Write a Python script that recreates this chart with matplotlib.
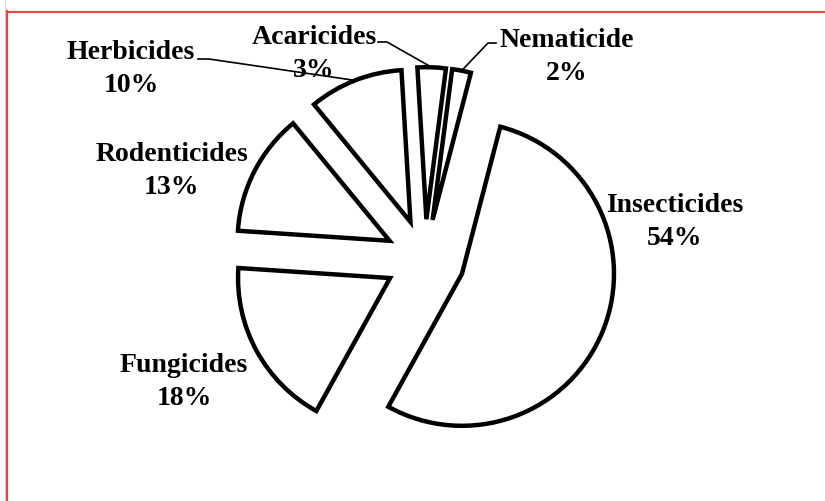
import numpy as np
import matplotlib
matplotlib.use("Agg")
import matplotlib.pyplot as plt
from matplotlib.lines import Line2D

# -----------------------------------------
# Data
# -----------------------------------------
categories = ["Insecticides", "Nematicide", "Acaricides", "Herbicides", "Rodenticides", "Fungicides"]
shares = [54, 2, 3, 10, 13, 18]

# label block centres in pixel coords (x from left, y from top)
label_px = {
    "Insecticides": (675, 222),
    "Nematicide": (567, 57),
    "Acaricides": (314, 54),
    "Herbicides": (131, 69),
    "Rodenticides": (172, 171),
    "Fungicides": (184, 382),
}
# leader lines: where the line leaves the text (pixel coords)
leader_px = {
    "Herbicides": [(198, 59), (209, 59)],
    "Acaricides": [(378, 42), (387, 42)],
    "Nematicide": [(496, 43), (488, 43)],
}

W, H = 825, 501
CX, CY, R = 425, 259, 152   # pie centre and radius in pixels


def to_data(px, py):
    return (px - CX) / R, (CY - py) / R


plt.rcParams["font.family"] = ["Liberation Serif", "DejaVu Serif"]

fig = plt.figure(figsize=(W / 100, H / 100), dpi=100)
ax = fig.add_axes([0, 0, 1, 1])
ax.axis("off")

wedges, _ = ax.pie(
    shares,
    explode=[0.262] * len(shares),
    startangle=-119,
    counterclock=True,
    radius=1.0,
    colors=["white"] * len(shares),
    wedgeprops=dict(edgecolor="black", linewidth=3.2, joinstyle="miter"),
)
ax.set_xlim(-CX / R, (W - CX) / R)
ax.set_ylim(-(H - CY) / R, CY / R)
ax.set_aspect("auto")

for name, val, w in zip(categories, shares, wedges):
    x, y = to_data(*label_px[name])
    ax.text(x, y, f"{name}\n{val}%", ha="center", va="center",
            fontsize=20, fontweight="bold", linespacing=1.38)
    if name in leader_px:
        mid = np.deg2rad((w.theta1 + w.theta2) / 2)
        ex = w.center[0] + w.r * np.cos(mid)
        ey = w.center[1] + w.r * np.sin(mid)
        pts = [to_data(*p) for p in leader_px[name]] + [(ex, ey)]
        ax.plot([p[0] for p in pts], [p[1] for p in pts], color="black", lw=1.2)

# red frame lines on left and top
fig.add_artist(Line2D([4.5 / W, 4.5 / W], [0, 1], color="#d8d8d8", lw=0.8))
fig.add_artist(Line2D([7 / W, 7 / W], [0, 1 - 11 / H], color="#e84545", lw=1.6))
fig.add_artist(Line2D([7 / W, 1], [1 - 11.5 / H, 1 - 11.5 / H], color="#e84545", lw=1.6))

fig.savefig("out.png", dpi=100)
